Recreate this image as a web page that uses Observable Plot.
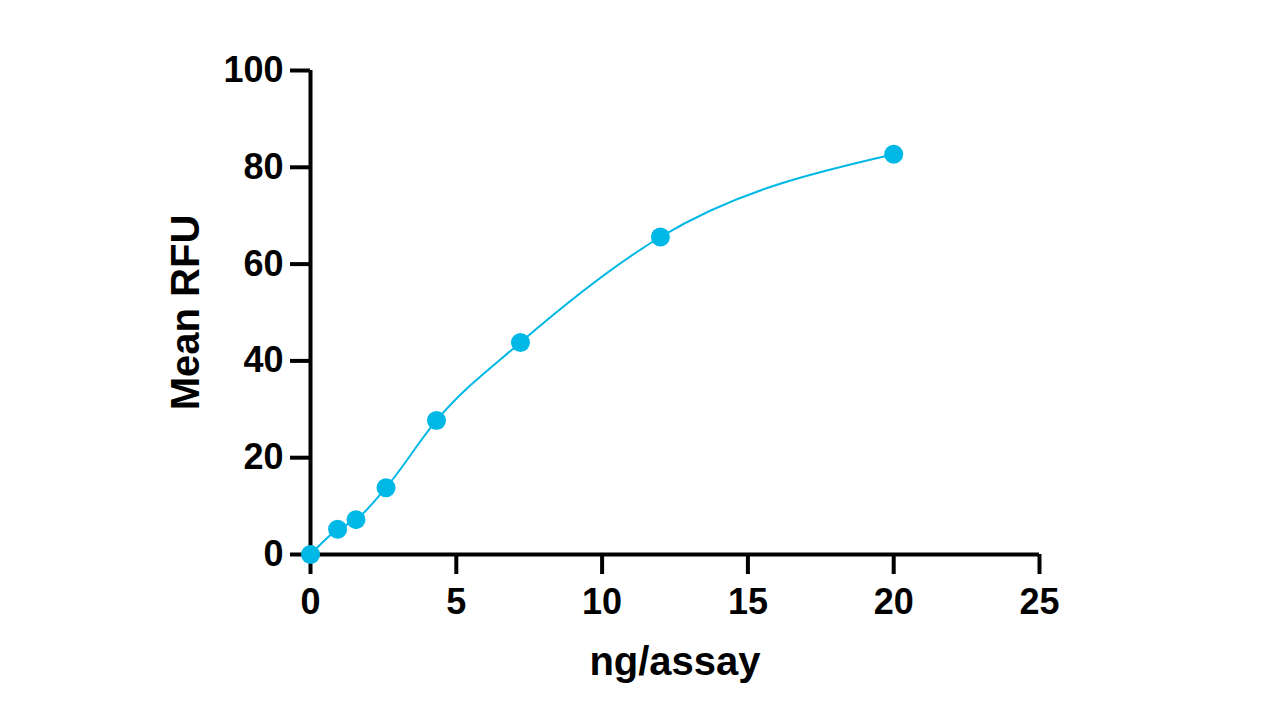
<!DOCTYPE html>
<html>
<head>
<meta charset="utf-8">
<script src="https://cdn.jsdelivr.net/npm/d3@7"></script>
<script src="https://cdn.jsdelivr.net/npm/@observablehq/plot@0.6"></script>
<style>
  html, body { margin: 0; padding: 0; background: #fff; }
  #chart { width: 1280px; height: 720px; }
</style>
</head>
<body>
<div id="chart"></div>
<script>
const dose = [0, 0.93, 1.56, 2.59, 4.32, 7.2, 12, 20];
const meanRFU = [0, 5.2, 7.2, 13.8, 27.7, 43.8, 65.6, 82.7];
const xTicks = [0, 5, 10, 15, 20, 25];
const yTicks = [0, 20, 40, 60, 80, 100];
const xLabel = "ng/assay";
const yLabel = "Mean RFU";

const data = dose.map((d, i) => ({x: d, y: meanRFU[i]}));
const color = "#00B8E6";
const font = "Liberation Sans, Arial, sans-serif";

const chart = Plot.plot({
  width: 1280,
  height: 720,
  marginLeft: 310,
  marginRight: 241,
  marginTop: 70,
  marginBottom: 166,
  style: {fontFamily: font, background: "#fff", color: "#000"},
  x: {domain: [0, 25]},
  y: {domain: [0, 100]},
  marks: [
    Plot.axisX({ticks: xTicks, tickSize: 20, tickPadding: 14, strokeWidth: 4, fontSize: 36, fontWeight: "bold", label: null, tickFormat: d => String(d)}),
    Plot.axisY({ticks: yTicks, tickSize: 20, tickPadding: 7, strokeWidth: 4, fontSize: 36, fontWeight: "bold", label: null, tickFormat: d => String(d)}),
    Plot.ruleY([0], {strokeWidth: 4, stroke: "#000"}),
    Plot.ruleX([0], {y1: 0, y2: 100, strokeWidth: 4, stroke: "#000"}),
    Plot.text([xLabel], {frameAnchor: "bottom", dy: 108, fontSize: 40, fontWeight: "bold", lineAnchor: "middle", textAnchor: "middle", fill: "#000"}),
    Plot.text([yLabel], {frameAnchor: "left", dx: -124, rotate: -90, fontSize: 40, fontWeight: "bold", lineAnchor: "middle", textAnchor: "middle", fill: "#000"}),
    Plot.line(data, {x: "x", y: "y", stroke: color, strokeWidth: 2, curve: "monotone-x"}),
    Plot.dot(data, {x: "x", y: "y", r: 9.5, fill: color, stroke: "none"})
  ]
});
document.getElementById("chart").appendChild(chart);
</script>
</body>
</html>
